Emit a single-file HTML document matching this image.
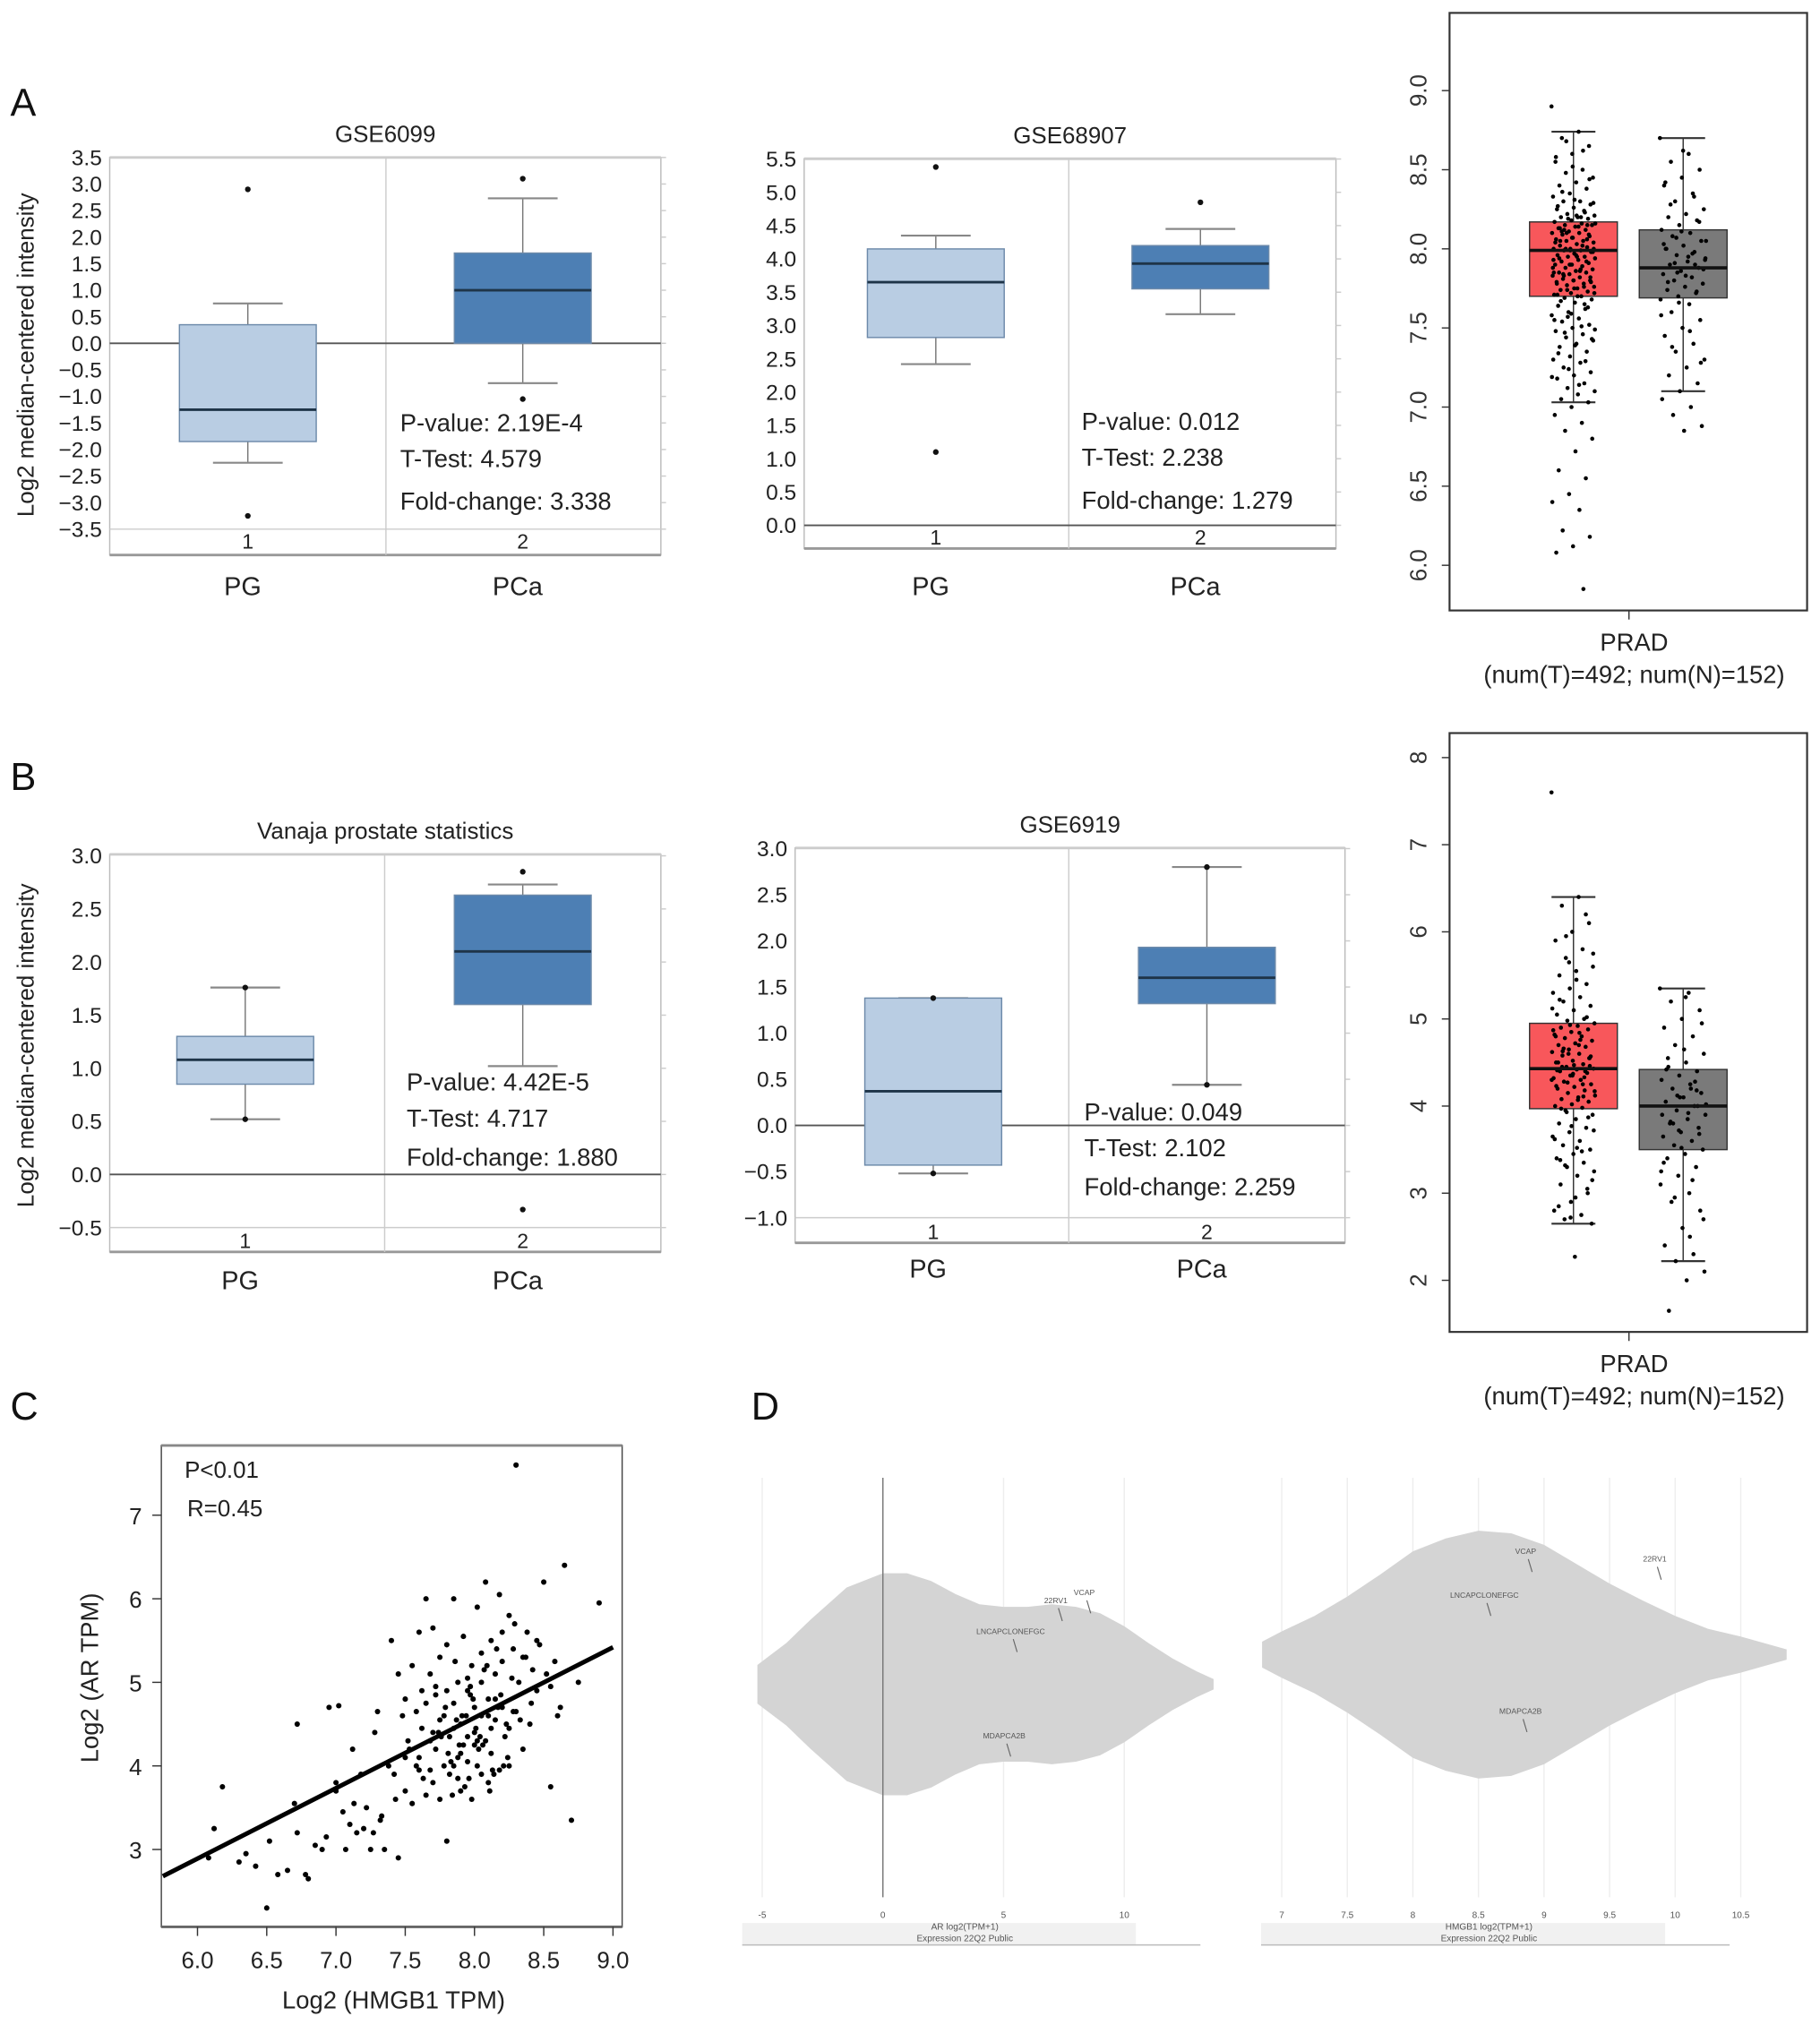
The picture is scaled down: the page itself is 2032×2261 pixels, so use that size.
<!DOCTYPE html>
<html><head><meta charset="utf-8"><style>
html,body{margin:0;padding:0;background:#fff}
svg{display:block;font-family:"Liberation Sans",sans-serif}
</style></head><body>
<svg id="fig" width="2032" height="2261" viewBox="0 0 1410 1569" preserveAspectRatio="none" xmlns="http://www.w3.org/2000/svg">
<rect width="1410" height="1569" fill="#fff"/>
<g id="root"></g>
</svg>
<script>
// ---------- data ----------
const groupLabels = ["PG","PCa"];
const gse6099Stats = [[-2.25,-1.85,-1.25,0.35,0.75],[-0.75,0,1.0,1.7,2.73]];
const gse6099Outliers = [[2.9,-3.25],[3.1,-1.05]];
const gse6099Ticks = [3.5,3.0,2.5,2.0,1.5,1.0,0.5,0.0,-0.5,-1.0,-1.5,-2.0,-2.5,-3.0,-3.5];
const gse68907Stats = [[2.42,2.82,3.65,4.15,4.35],[3.17,3.55,3.93,4.2,4.45]];
const gse68907Outliers = [[5.38,1.1],[4.85]];
const gse68907Ticks = [5.5,5.0,4.5,4.0,3.5,3.0,2.5,2.0,1.5,1.0,0.5,0.0];
const vanajaStats = [[0.52,0.85,1.08,1.3,1.76],[1.02,1.6,2.1,2.63,2.73]];
const vanajaOutliers = [[1.76,0.52],[2.85,-0.33]];
const vanajaTicks = [3.0,2.5,2.0,1.5,1.0,0.5,0.0,-0.5];
const gse6919Stats = [[-0.52,-0.43,0.37,1.38,1.38],[0.44,1.32,1.6,1.93,2.8]];
const gse6919Outliers = [[1.38,-0.52],[2.8,0.44]];
const gse6919Ticks = [3.0,2.5,2.0,1.5,1.0,0.5,0.0,-0.5,-1.0];

const prad1Stats = [[7.03,7.7,7.99,8.17,8.74],[7.1,7.69,7.88,8.12,8.7]];
const prad1Ticks = [9.0,8.5,8.0,7.5,7.0,6.5,6.0];
const prad1Tumor = [8.9,8.74,8.7,8.65,8.6,8.55,8.5,8.48,8.45,8.42,8.4,8.38,8.35,8.33,8.3,8.3,8.28,8.26,8.25,8.24,8.22,8.21,8.2,8.2,8.19,8.18,8.17,8.16,8.15,8.15,8.14,8.13,8.12,8.11,8.1,8.1,8.09,8.08,8.07,8.06,8.05,8.05,8.04,8.03,8.02,8.01,8.0,8.0,7.99,7.99,7.98,7.97,7.96,7.95,7.95,7.94,7.93,7.92,7.91,7.9,7.9,7.89,7.88,7.87,7.86,7.85,7.85,7.84,7.83,7.82,7.81,7.8,7.8,7.79,7.78,7.77,7.76,7.75,7.74,7.73,7.72,7.71,7.7,7.69,7.68,7.66,7.64,7.62,7.6,7.58,7.56,7.54,7.52,7.5,7.48,7.46,7.44,7.42,7.4,7.38,7.35,7.32,7.3,7.28,7.25,7.22,7.2,7.18,7.15,7.12,7.1,7.08,7.05,7.03,7.0,6.95,6.9,6.85,6.8,6.72,6.6,6.55,6.45,6.4,6.35,6.22,6.18,6.12,6.08,5.85,8.1,8.0,7.95,8.05,8.15,7.9,7.85,8.2,8.12,7.98,
8.31,8.27,8.23,8.19,8.16,8.14,8.11,8.09,8.07,8.04,8.02,8.0,7.98,7.96,7.94,7.92,7.9,7.88,7.86,7.84,7.82,7.8,7.78,7.76,7.74,7.72,7.7,7.67,7.63,7.59,7.55,7.51,7.47,7.43,7.39,7.34,7.29,7.24,7.19,7.14,8.36,8.44,8.52,8.58,8.62,8.68,8.29,8.21,8.13,8.06,7.99,7.93,7.87,7.83,7.79,7.75,7.71,7.65,7.57,7.49];
const prad1Normal = [8.7,8.6,8.55,8.5,8.45,8.4,8.35,8.3,8.25,8.22,8.2,8.18,8.15,8.12,8.1,8.08,8.05,8.02,8.0,7.98,7.96,7.94,7.92,7.9,7.88,7.86,7.84,7.82,7.8,7.78,7.76,7.74,7.72,7.7,7.68,7.65,7.6,7.55,7.5,7.45,7.4,7.35,7.3,7.25,7.2,7.15,7.1,7.05,7.0,6.95,6.88,6.85,8.0,7.9,7.85,8.05,7.95,
8.28,8.17,8.11,8.03,7.97,7.91,7.87,7.83,7.79,7.73,7.66,7.58,7.48,7.38,7.28,8.62,8.42,8.33,8.07,7.93];

const prad2Stats = [[2.65,3.97,4.43,4.95,6.4],[2.22,3.5,4.0,4.42,5.35]];
const prad2Ticks = [8,7,6,5,4,3,2];
const prad2Tumor = [7.6,6.4,6.3,6.1,6.0,5.9,5.8,5.7,5.6,5.55,5.5,5.4,5.35,5.3,5.25,5.2,5.15,5.1,5.05,5.0,4.98,4.95,4.92,4.9,4.88,4.85,4.82,4.8,4.78,4.75,4.72,4.7,4.68,4.65,4.62,4.6,4.58,4.55,4.52,4.5,4.48,4.45,4.43,4.42,4.4,4.38,4.35,4.32,4.3,4.28,4.25,4.22,4.2,4.18,4.15,4.12,4.1,4.08,4.05,4.02,4.0,3.98,3.95,3.9,3.85,3.8,3.75,3.7,3.65,3.6,3.55,3.5,3.45,3.4,3.35,3.3,3.25,3.2,3.1,3.0,2.9,2.8,2.75,2.7,2.65,2.27,4.5,4.4,4.6,4.3,4.7,4.45,4.55,4.35,4.8,4.25,
5.95,5.75,5.45,5.22,5.02,4.93,4.87,4.76,4.66,4.57,4.47,4.41,4.33,4.27,4.17,4.07,3.97,3.87,3.77,3.62,3.48,3.32,3.15,2.95,2.85,6.2,5.65,5.12,4.84,4.63,4.46,4.37,4.23,4.11,3.93,3.72,3.52,3.38,3.05,2.72];
const prad2Normal = [5.35,5.3,5.2,5.1,5.0,4.9,4.8,4.7,4.6,4.5,4.45,4.4,4.35,4.3,4.25,4.2,4.15,4.1,4.05,4.0,3.95,3.9,3.85,3.8,3.75,3.7,3.65,3.6,3.55,3.5,3.45,3.4,3.3,3.2,3.1,3.0,2.9,2.8,2.6,2.4,2.3,2.22,2.1,2.0,1.65,4.0,4.1,3.9,4.2,3.8,
4.95,4.65,4.42,4.28,4.12,4.02,3.92,3.82,3.68,3.52,3.35,3.15,2.95,2.7,5.25,4.55,4.18,3.72,3.25,2.5];

const hmgbX = [6.08,6.18,6.12,6.30,6.35,6.42,6.50,6.52,6.58,6.65,
6.70,6.72,6.78,6.80,6.85,6.90,6.95,7.00,7.02,7.05,
7.10,7.12,7.15,7.18,7.20,7.22,7.25,7.28,7.30,7.32,
7.35,7.38,7.40,7.42,7.45,7.48,7.50,7.50,7.52,7.55,
7.55,7.58,7.60,7.60,7.62,7.62,7.65,7.65,7.68,7.68,
7.70,7.70,7.72,7.72,7.75,7.75,7.78,7.78,7.80,7.80,
7.82,7.82,7.85,7.85,7.88,7.88,7.90,7.90,7.92,7.92,
7.95,7.95,7.98,7.98,8.00,8.00,8.02,8.02,8.05,8.05,
8.08,8.08,8.10,8.10,8.12,8.12,8.15,8.15,8.18,8.18,
8.20,8.20,8.22,8.25,8.25,8.28,8.30,8.30,8.32,8.35,
8.38,8.40,8.42,8.45,8.50,8.55,8.60,8.65,8.70,8.75,
8.90,7.65,7.45,6.72,7.00,7.85,8.05,8.15,7.60,7.75,
7.90,8.00,8.10,7.80,7.70,7.95,8.25,8.35,8.45,7.50,
8.55,8.20,7.85,7.95,8.05,8.12,7.72,7.88,8.02,8.28,
7.83,7.87,7.93,7.97,8.03,8.07,8.13,8.17,8.23,8.27,
7.76,7.81,7.86,7.91,7.96,8.01,8.06,8.11,8.16,8.21,
7.68,7.74,7.79,7.84,7.89,7.94,7.99,8.04,8.09,8.14,
8.19,8.24,8.29,8.33,8.37,8.41,7.58,7.63,7.53,7.43,
7.33,7.27,7.13,7.07,6.93,8.47,8.52,8.58,8.62,7.97];
const arY = [2.9,3.75,3.25,2.85,2.95,2.8,2.3,3.1,2.7,2.75,
3.55,4.5,2.7,2.65,3.05,3.0,4.7,3.7,4.72,3.45,
3.3,4.2,3.2,3.9,3.25,3.5,3.0,4.4,4.65,3.35,
3.0,4.0,5.5,3.9,2.9,4.6,4.1,3.7,4.3,5.2,
3.55,4.65,5.6,3.95,4.45,4.9,6.0,3.65,5.1,4.3,
5.65,3.8,4.2,4.85,5.3,3.6,4.0,4.6,3.1,5.45,
4.35,3.9,6.0,4.75,4.1,5.0,3.7,4.5,5.55,4.25,
4.05,4.9,3.6,5.2,4.4,4.7,5.9,4.0,4.6,5.35,
6.2,4.3,4.8,3.8,5.5,4.15,4.55,5.1,6.05,3.95,
4.7,5.25,4.35,5.8,4.0,5.4,7.6,4.65,5.0,4.2,
5.6,4.5,5.15,4.9,6.2,3.75,4.6,6.4,3.35,5.0,
5.95,4.75,5.1,3.2,3.8,4.45,5.0,4.8,4.1,4.55,
4.15,4.25,4.6,4.9,4.4,4.35,4.45,5.3,5.5,4.8,
4.95,5.6,4.0,5.05,3.9,4.45,4.95,3.85,4.3,4.65,
4.05,4.55,3.75,4.85,4.2,5.15,3.95,4.7,4.5,5.05,
4.35,4.15,5.25,4.6,3.85,4.45,4.25,3.7,5.4,4.0,
3.95,4.4,4.7,3.65,4.25,4.6,4.8,4.35,5.2,3.9,
4.85,4.1,5.7,4.55,5.3,4.75,4.0,3.85,4.2,3.6,
3.4,3.2,3.55,3.0,3.15,5.45,5.1,5.25,4.7,4.95];
const fitLine = [[5.75,2.68],[9.0,5.42]];
const scatterXTicks = [6.0,6.5,7.0,7.5,8.0,8.5,9.0];
const scatterYTicks = [3,4,5,6,7];

const arViolinVals = [-5.2,-4,-3,-1.5,0,1,2,3,4,5,6,7,8,9,10,11,12,13,13.7];
const arViolinHalf = [15,32,50,75,86,86,80,70,62,60,60,62,60,55,45,32,20,10,4];
const arTicks = [-5,0,5,10];
const hmgbViolinVals = [6.85,7,7.25,7.5,7.75,8,8.25,8.5,8.75,9,9.25,9.5,9.75,10,10.25,10.5,10.85];
const hmgbViolinHalf = [10,18,30,45,62,80,90,96,94,85,70,55,42,30,20,14,4];
const hmgbTicks = [7,7.5,8,8.5,9,9.5,10,10.5];

// ---------- helpers ----------
const NS="http://www.w3.org/2000/svg";
const root=document.getElementById('root');
function el(tag,attrs,parent,text){const e=document.createElementNS(NS,tag);for(const k in attrs)e.setAttribute(k,attrs[k]);if(text!==undefined)e.textContent=text;(parent||root).appendChild(e);return e;}
function fmt(v){return v.toFixed(1).replace('-','−');}

function panelLetter(t,x,y){const e=el('text',{x:x,y:y,'font-size':30,fill:'#111'},root,t);

}

function oncomine(id,cfg,stats,outliers,ticks,statsText){
  const g=el('g',{});
  
  
  const y=v=>cfg.y0-(v-cfg.v0)*cfg.ppu;
  el('rect',{x:cfg.x0,y:cfg.top,width:cfg.x1-cfg.x0,height:cfg.bot-cfg.top,fill:'none',stroke:'#bbb','stroke-width':1},g);
  el('line',{x1:cfg.x0,x2:cfg.x1,y1:cfg.bot,y2:cfg.bot,stroke:'#999','stroke-width':2},g);
  el('line',{x1:cfg.x0,x2:cfg.x1,y1:cfg.top,y2:cfg.top,stroke:'#ccc','stroke-width':2},g);
  el('line',{x1:cfg.div,x2:cfg.div,y1:cfg.top,y2:cfg.bot,stroke:'#ccc'},g);
  el('line',{x1:cfg.x0,x2:cfg.x1,y1:y(ticks[ticks.length-1]),y2:y(ticks[ticks.length-1]),stroke:'#ccc'},g);
  el('line',{x1:cfg.x0,x2:cfg.x1,y1:y(0),y2:y(0),stroke:'#555','stroke-width':1.3},g);
  ticks.forEach(t=>{
    const tt=el('text',{x:cfg.x0-6,y:y(t)+6,'font-size':17,'text-anchor':'end',fill:'#222'},g,fmt(t));
    
    
    el('line',{x1:cfg.x1,x2:cfg.x1+4,y1:y(t),y2:y(t),stroke:'#ccc'},g);
  });
  el('text',{x:(cfg.x0+cfg.x1)/2,y:cfg.top-12,'font-size':18,'text-anchor':'middle',fill:'#222'},g,cfg.title);
  const colors=['#b9cde3','#4d7fb4'];
  stats.forEach((s,i)=>{
    const cx=cfg.cx[i],hw=53;
    const b=el('g',{},g);
    
    
    el('line',{x1:cx,x2:cx,y1:y(s[0]),y2:y(s[4]),stroke:'#777'},b);
    el('line',{x1:cx-27,x2:cx+27,y1:y(s[0]),y2:y(s[0]),stroke:'#888','stroke-width':1.5},b);
    el('line',{x1:cx-27,x2:cx+27,y1:y(s[4]),y2:y(s[4]),stroke:'#888','stroke-width':1.5},b);
    el('rect',{x:cx-hw,y:y(s[3]),width:2*hw,height:y(s[1])-y(s[3]),fill:colors[i],stroke:'#6d8aaa','stroke-width':1},b);
    el('line',{x1:cx-hw,x2:cx+hw,y1:y(s[2]),y2:y(s[2]),stroke:'#1e3448','stroke-width':2},b);
    outliers[i].forEach(o=>{const c=el('circle',{cx:cx,cy:y(o),r:2.2,fill:'#111'},b);
      
      });
    el('text',{x:cx,y:cfg.numY,'font-size':16,'text-anchor':'middle',fill:'#222'},g,String(i+1));
    const lb=el('text',{x:cx-4,y:cfg.labY,'font-size':20,'text-anchor':'middle',fill:'#222'},g,groupLabels[i]);
    
    
  });
  statsText.forEach((t,k)=>{el('text',{x:cfg.sx,y:cfg.sy[k],'font-size':19,fill:'#222'},g,t);});
  if(cfg.ylab){const yl=el('text',{transform:`translate(26,${cfg.ylabY}) rotate(-90)`,'font-size':18,'text-anchor':'middle',fill:'#222'},g,'Log2 median-centered intensity');
    
    }
}

function gepia(id,cfg,stats,ticks,tumor,normal){
  const g=el('g',{});
  
  
  const y=v=>cfg.y0-(v-cfg.v0)*cfg.ppu;
  el('rect',{x:1123,y:cfg.top,width:277,height:cfg.bot-cfg.top,fill:'none',stroke:'#333','stroke-width':1.5},g);
  ticks.forEach(t=>{
    el('line',{x1:1117,x2:1123,y1:y(t),y2:y(t),stroke:'#333'},g);
    const tt=el('text',{transform:`translate(1105,${y(t)}) rotate(-90)`,'font-size':18,'text-anchor':'middle',fill:'#333'},g,cfg.int?String(t):t.toFixed(1));
    
    
  });
  el('line',{x1:1262,x2:1262,y1:cfg.bot,y2:cfg.bot+7,stroke:'#333'},g);
  const cxs=[1219,1304],cols=['#f8575b','#7a7a7a'];
  stats.forEach((s,i)=>{
    const cx=cxs[i];
    const b=el('g',{},g);
    
    
    el('line',{x1:cx,x2:cx,y1:y(s[0]),y2:y(s[4]),stroke:'#333'},b);
    el('line',{x1:cx-17,x2:cx+17,y1:y(s[0]),y2:y(s[0]),stroke:'#333','stroke-width':1.5},b);
    el('line',{x1:cx-17,x2:cx+17,y1:y(s[4]),y2:y(s[4]),stroke:'#333','stroke-width':1.5},b);
    el('rect',{x:cx-34,y:y(s[3]),width:68,height:y(s[1])-y(s[3]),fill:cols[i],stroke:'#333','stroke-width':1},b);
  });
  [tumor,normal].forEach((arr,i)=>{
    arr.forEach((v,k)=>{
      const jit=(((k*0.618034)%1)-0.5)*(i?36:34);
      const c=el('circle',{cx:cxs[i]+jit,cy:y(v),r:1.6,fill:'#000'},g);
      
      
    });
  });
  stats.forEach((s,i)=>{el('line',{x1:cxs[i]-34,x2:cxs[i]+34,y1:y(s[2]),y2:y(s[2]),stroke:'#111','stroke-width':2.5},g);});
  el('text',{x:1266,y:cfg.bot+31,'font-size':19,'text-anchor':'middle',fill:'#222'},g,'PRAD');
  el('text',{x:1266,y:cfg.bot+56,'font-size':19,'text-anchor':'middle',fill:'#222'},g,'(num(T)=492; num(N)=152)');
}

// ---------- panels ----------
panelLetter('A',8,90);panelLetter('B',8,612);panelLetter('C',8,1100);panelLetter('D',582,1100);

oncomine('gse6099',{x0:85,x1:512,top:122,bot:430,div:299,y0:266,v0:0,ppu:41.14,cx:[192,405],numY:425,labY:461,title:'GSE6099',sx:310,sy:[334,362,395],ylab:true,ylabY:275},
  gse6099Stats,gse6099Outliers,gse6099Ticks,['P-value: 2.19E-4','T-Test: 4.579','Fold-change: 3.338']);
oncomine('gse68907',{x0:623,x1:1035,top:123,bot:425,div:828,y0:407,v0:0,ppu:51.6,cx:[725,930],numY:422,labY:461,title:'GSE68907',sx:838,sy:[333,361,394]},
  gse68907Stats,gse68907Outliers,gse68907Ticks,['P-value: 0.012','T-Test: 2.238','Fold-change: 1.279']);
oncomine('vanaja',{x0:85,x1:512,top:662,bot:970,div:298,y0:910,v0:0,ppu:82.3,cx:[190,405],numY:967,labY:999,title:'Vanaja prostate statistics',sx:315,sy:[845,873,903],ylab:true,ylabY:810},
  vanajaStats,vanajaOutliers,vanajaTicks,['P-value: 4.42E-5','T-Test: 4.717','Fold-change: 1.880']);
oncomine('gse6919',{x0:616,x1:1042,top:657,bot:963,div:828,y0:872,v0:0,ppu:71.5,cx:[723,935],numY:960,labY:990,title:'GSE6919',sx:840,sy:[868,896,926]},
  gse6919Stats,gse6919Outliers,gse6919Ticks,['P-value: 0.049','T-Test: 2.102','Fold-change: 2.259']);

gepia('prad-hmgb1-a',{top:10,bot:473,y0:438,v0:6.0,ppu:122.6},prad1Stats,prad1Ticks,prad1Tumor,prad1Normal);
gepia('prad-hmgb1-b',{top:568,bot:1032,y0:992,v0:2,ppu:67.5,int:true},prad2Stats,prad2Ticks,prad2Tumor,prad2Normal);

// ---------- scatter C ----------
(function(){
  const g=el('g',{});
  
  
  const X=v=>153+(v-6.0)*107.3, Y=v=>1433-(v-3)*64.75;
  el('rect',{x:125,y:1120,width:357,height:373,fill:'none',stroke:'#444','stroke-width':1},g);
  el('line',{x1:125,x2:482,y1:1120,y2:1120,stroke:'#888','stroke-width':2},g);
  el('line',{x1:125,x2:482,y1:1493,y2:1493,stroke:'#666','stroke-width':2},g);
  scatterXTicks.forEach(t=>{el('line',{x1:X(t),x2:X(t),y1:1493,y2:1500,stroke:'#333'},g);
    el('text',{x:X(t),y:1525,'font-size':18,'text-anchor':'middle',fill:'#222'},g,t.toFixed(1));});
  scatterYTicks.forEach(t=>{el('line',{x1:118,x2:125,y1:Y(t),y2:Y(t),stroke:'#333'},g);
    el('text',{x:110,y:Y(t)+7,'font-size':18,'text-anchor':'end',fill:'#222'},g,String(t));});
  const n=Math.min(hmgbX.length,arY.length);
  for(let i=0;i<n;i++){const c=el('circle',{cx:X(hmgbX[i]),cy:Y(arY[i]),r:2.1,fill:'#000'},g);
    
    }
  const ln=el('line',{x1:X(fitLine[0][0])<125?125:X(fitLine[0][0]),y1:Y(fitLine[0][1]),x2:X(fitLine[1][0]),y2:Y(fitLine[1][1]),stroke:'#000','stroke-width':3.5},g);
  
  
  el('text',{x:143,y:1145,'font-size':18,fill:'#222'},g,'P<0.01');
  el('text',{x:145,y:1175,'font-size':18,fill:'#222'},g,'R=0.45');
  el('text',{x:305,y:1556,'font-size':19,'text-anchor':'middle',fill:'#222'},g,'Log2 (HMGB1 TPM)');
  el('text',{transform:'translate(76,1300) rotate(-90)','font-size':19,'text-anchor':'middle',fill:'#222'},g,'Log2 (AR TPM)');
})();

// ---------- violins D ----------
function violin(id,vals,half,ticks,x0v,x0px,ppu,cy,x1,x2,axisTitle,labels){
  const g=el('g',{});
  
  
  const X=v=>x0px+(v-x0v)*ppu;
  ticks.forEach(t=>{el('line',{x1:X(t),x2:X(t),y1:1145,y2:1470,stroke:'#eee'},g);
    el('text',{x:X(t),y:1486,'font-size':7,'text-anchor':'middle',fill:'#555'},g,String(t));});
  let d='M'+X(vals[0])+','+cy;
  vals.forEach((v,i)=>{d+=' L'+X(v)+','+(cy-half[i]);});
  d+=' L'+X(vals[vals.length-1])+','+cy;
  for(let i=vals.length-1;i>=0;i--){d+=' L'+X(vals[i])+','+(cy+half[i]);}
  d+='Z';
  const p=el('path',{d:d,fill:'#d4d4d4',stroke:'none'},g);
  
  
  labels.forEach(l=>{el('text',{x:l[0],y:l[1],'font-size':6,'text-anchor':'middle',fill:'#555'},g,l[2]);
    el('line',{x1:l[0]+2,y1:l[1]+4,x2:l[0]+5,y2:l[1]+14,stroke:'#666','stroke-width':0.8},g);});
  el('rect',{x:x1,y:1490,width:x2-x1,height:17,fill:'#f1f1f1'},g);
  el('line',{x1:x1,x2:x2+50,y1:1507,y2:1507,stroke:'#bbb'},g);
  el('text',{x:(x1+x2)/2+20,y:1495,'font-size':7,'text-anchor':'middle',fill:'#555'},g,axisTitle);
  el('text',{x:(x1+x2)/2+20,y:1504,'font-size':7,'text-anchor':'middle',fill:'#555'},g,'Expression 22Q2 Public');
}
violin('ar-expression-violin',arViolinVals,arViolinHalf,arTicks,0,684,18.7,1305,575,880,'AR log2(TPM+1)',
  [[818,1242,'22RV1'],[840,1236,'VCAP'],[783,1266,'LNCAPCLONEFGC'],[778,1347,'MDAPCA2B']]);
el('line',{x1:684,x2:684,y1:1145,y2:1470,stroke:'#777',id:'zero-line'});
violin('hmgb1-expression-violin',hmgbViolinVals,hmgbViolinHalf,hmgbTicks,7,993,101.6,1282,977,1290,'HMGB1 log2(TPM+1)',
  [[1182,1204,'VCAP'],[1282,1210,'22RV1'],[1150,1238,'LNCAPCLONEFGC'],[1178,1328,'MDAPCA2B']]);
</script>
</body></html>
